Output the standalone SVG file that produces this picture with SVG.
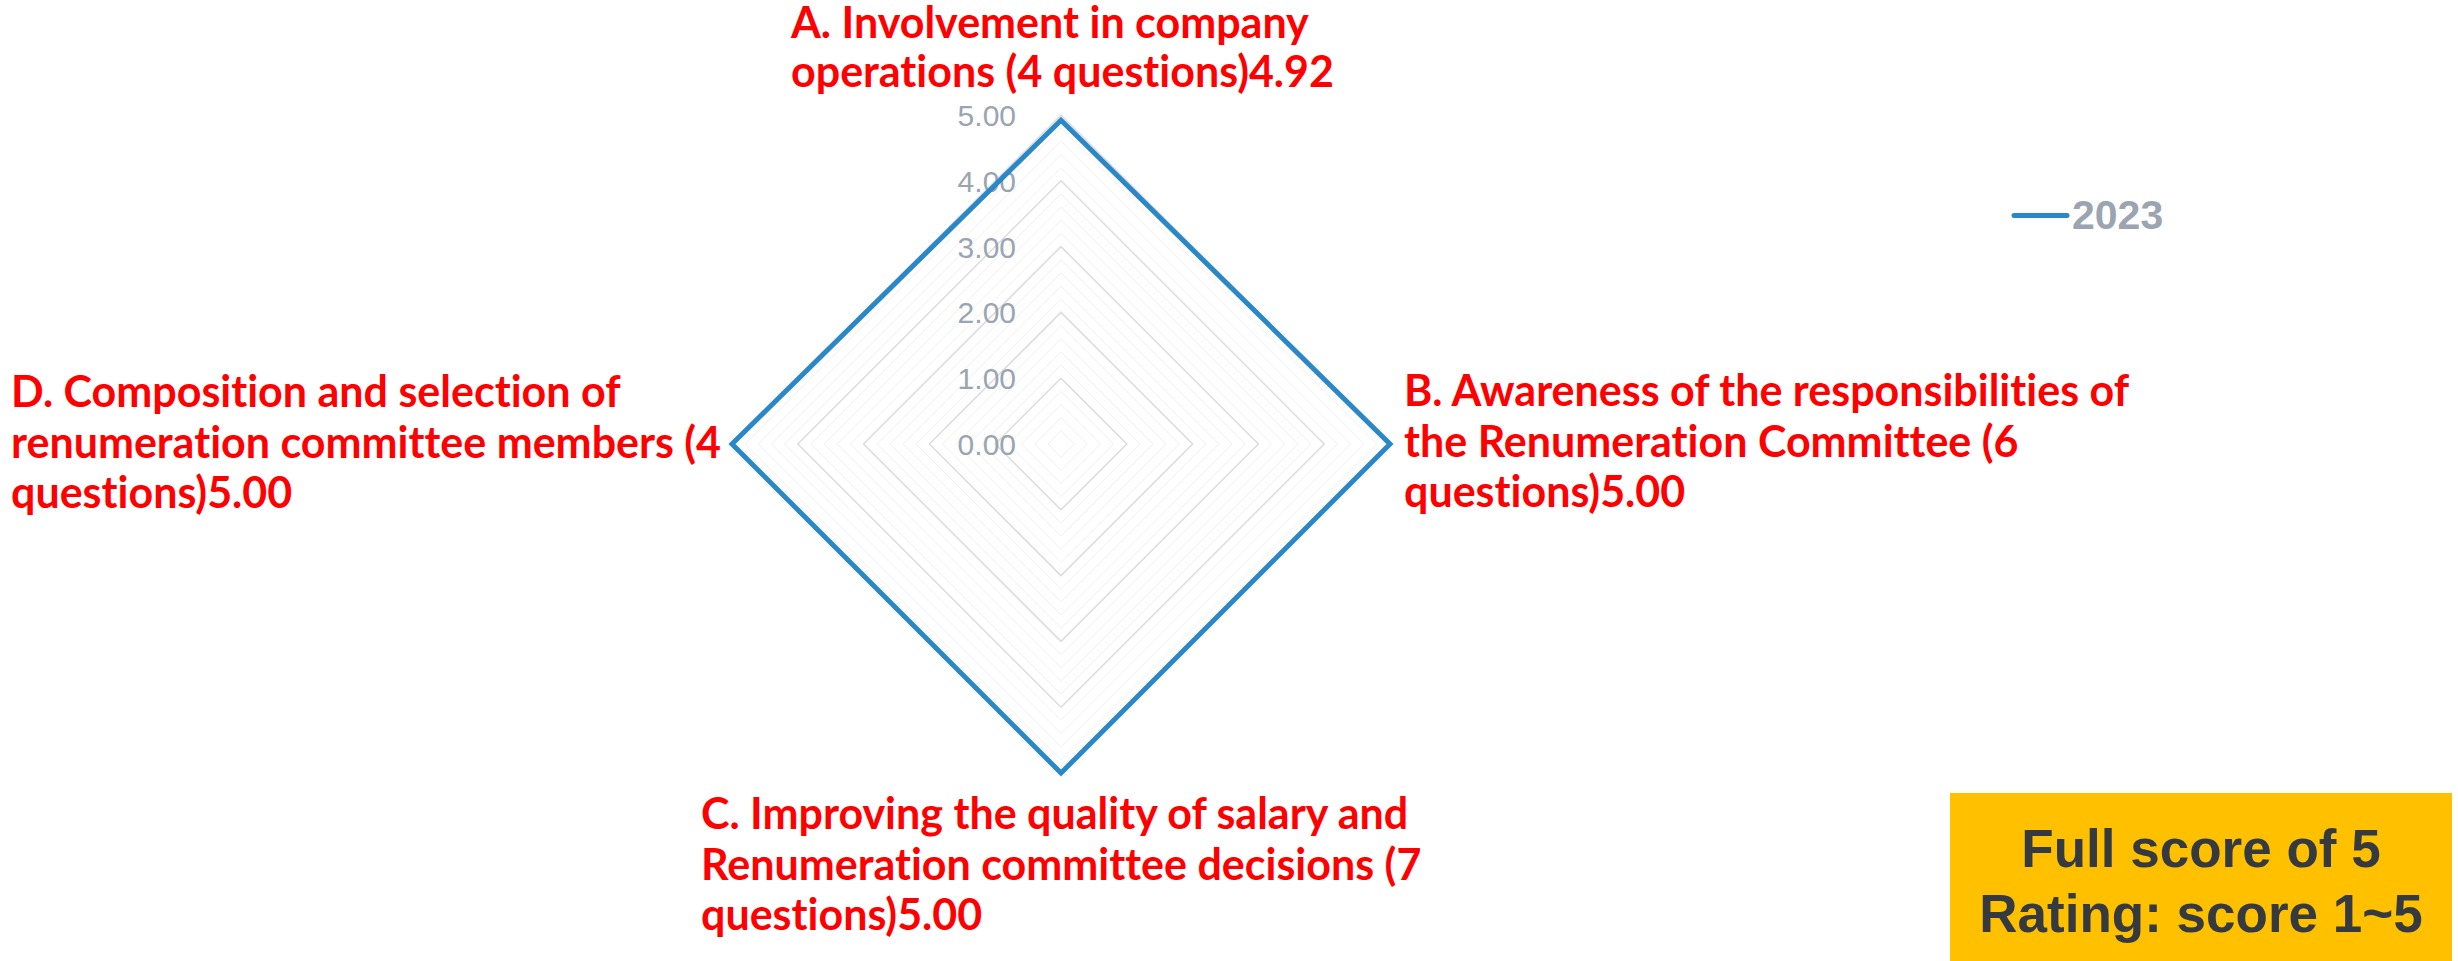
<svg xmlns="http://www.w3.org/2000/svg" width="2458" height="961" viewBox="0 0 2458 961">
<style>
.minor{fill:none;stroke:#f0f0f0;stroke-width:1}
.major{fill:none;stroke:#dcdcdc;stroke-width:1.5}
.tick{font-family:"Liberation Sans",Arial,sans-serif;font-size:30px;fill:#9aa5b1;text-anchor:end}
.lbl{font-family:Lato,"Liberation Sans",sans-serif;font-weight:bold;font-size:43px;fill:#ff0000;font-variant-ligatures:none;font-feature-settings:"liga" 0}
.series{fill:none;stroke:#2a87c8;stroke-width:5;stroke-linejoin:miter}
.box{font-family:"Liberation Sans",Arial,sans-serif;font-weight:bold;font-size:53px;fill:#343a40;text-anchor:middle}
</style>
<rect width="2458" height="961" fill="#ffffff"/>
<g id="grid">
<path class="minor" d="M1061,430.8L1074.2,444L1061,457.2L1047.8,444Z M1061,417.7L1087.3,444L1061,470.3L1034.7,444Z M1061,404.5L1100.5,444L1061,483.5L1021.5,444Z M1061,391.4L1113.6,444L1061,496.6L1008.4,444Z"/>
<path class="minor" d="M1061,365L1140,444L1061,523L982,444Z M1061,351.9L1153.1,444L1061,536.1L968.9,444Z M1061,338.7L1166.3,444L1061,549.3L955.7,444Z M1061,325.6L1179.4,444L1061,562.4L942.6,444Z"/>
<path class="minor" d="M1061,299.2L1205.8,444L1061,588.8L916.2,444Z M1061,286.1L1218.9,444L1061,601.9L903.1,444Z M1061,272.9L1232.1,444L1061,615.1L889.9,444Z M1061,259.8L1245.2,444L1061,628.2L876.8,444Z"/>
<path class="minor" d="M1061,233.4L1271.6,444L1061,654.6L850.4,444Z M1061,220.3L1284.7,444L1061,667.7L837.3,444Z M1061,207.1L1297.9,444L1061,680.9L824.1,444Z M1061,194L1311,444L1061,694L811,444Z"/>
<path class="minor" d="M1061,167.6L1337.4,444L1061,720.4L784.6,444Z M1061,154.5L1350.5,444L1061,733.5L771.5,444Z M1061,141.3L1363.7,444L1061,746.7L758.3,444Z M1061,128.2L1376.8,444L1061,759.8L745.2,444Z"/>
<path class="major" d="M1061,378.2L1126.8,444L1061,509.8L995.2,444Z M1061,312.4L1192.6,444L1061,575.6L929.4,444Z M1061,246.6L1258.4,444L1061,641.4L863.6,444Z M1061,180.8L1324.2,444L1061,707.2L797.8,444Z M1061,115L1390,444L1061,773L732,444Z"/>
</g>
<g id="ticks">
<text class="tick" x="1016" y="126">5.00</text>
<text class="tick" x="1016" y="192">4.00</text>
<text class="tick" x="1016" y="258">3.00</text>
<text class="tick" x="1016" y="323">2.00</text>
<text class="tick" x="1016" y="389">1.00</text>
<text class="tick" x="1016" y="455">0.00</text>
</g>
<g id="connectors">
<path id="series-2023" class="series" d="M1061,120.2L1390,444L1061,773L732,444Z"/>
</g>
<g id="node-A">
<text class="lbl" x="791" y="38">A. Involvement in company</text>
<text class="lbl" x="791" y="87">operations (4 questions)4.92</text>
</g>
<g id="node-B">
<text class="lbl" x="1404" y="406">B. Awareness of the responsibilities of</text>
<text class="lbl" x="1404" y="457">the Renumeration Committee (6</text>
<text class="lbl" x="1404" y="507">questions)5.00</text>
</g>
<g id="node-C">
<text class="lbl" x="701" y="829">C. Improving the quality of salary and</text>
<text class="lbl" x="701" y="880">Renumeration committee decisions (7</text>
<text class="lbl" x="701" y="930">questions)5.00</text>
</g>
<g id="node-D">
<text class="lbl" x="11" y="407">D. Composition and selection of</text>
<text class="lbl" x="11" y="458">renumeration committee members (4</text>
<text class="lbl" x="11" y="508">questions)5.00</text>
</g>
<g id="legend">
<line x1="2014" y1="215.5" x2="2067" y2="215.5" stroke="#2a87c8" stroke-width="5" stroke-linecap="round"/>
<text x="2072" y="229" font-family="'Liberation Sans',Arial,sans-serif" font-weight="bold" font-size="41" fill="#9aa5b1">2023</text>
</g>
<g id="note">
<rect x="1950" y="793" width="502" height="168" fill="#ffc000"/>
<text class="box" x="2201" y="867">Full score of 5</text>
<text class="box" x="2201" y="932">Rating: score 1~5</text>
</g>
</svg>
